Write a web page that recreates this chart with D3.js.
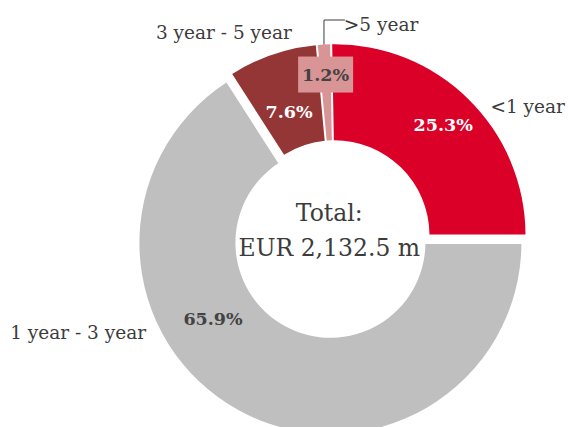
<!DOCTYPE html>
<html>
<head>
<meta charset="utf-8">
<script src="https://cdn.jsdelivr.net/npm/d3@7"></script>
<style>
  body { margin: 0; background: #fff; }
  svg text { font-family: "DejaVu Serif", serif; fill: #3c3c3c; }
</style>
</head>
<body>
<script>
// data
var categories = ["<1 year", "1 year - 3 year", "3 year - 5 year", ">5 year"]
var shares = [25.3, 65.9, 7.6, 1.2]
var shareLabels = ["25.3%", "65.9%", "7.6%", "1.2%"]
var totalLines = ["Total:", "EUR 2,132.5 m"]

// styles
var colors = ["#da0028", "#bfbfbf", "#953636", "#d99595"]
var pctColors = ["#ffffff", "#434343", "#ffffff", "#434343"]

var width = 568, height = 427
var cx = 334.5, cy = 235.3
var outerR = 191, innerR = 95
var deg = Math.PI / 180

// how far each slice is pulled out, and where its labels sit (radius, angle shift from mid)
var explode = [0, 8.5, 0, 0]
var pctPos = [{r: 155, a: 0}, {r: 140, a: 28.3}, {r: 132, a: -1.1}, {r: 161, a: 0}]
var catPos = [
  {r: 264, a: 16.2, anchor: "end"},
  {r: 205, a: 35.4, anchor: "end"},
  {r: 207, a: 7.1, anchor: "end"},
  {r: 211.5, a: 5.7, anchor: "start"}
]

function polar(angle, r) {
  return [r * Math.sin(angle), -r * Math.cos(angle)]
}

var svg = d3.select("body").append("svg")
  .attr("width", width)
  .attr("height", height)

var pie = d3.pie().sort(null)
  .startAngle(-1 * deg)
  .endAngle(359 * deg)

var arc = d3.arc()
  .innerRadius(innerR)
  .outerRadius(outerR)
  .padAngle(0.02)
  .padRadius(100)

var arcs = pie(shares)

var slices = svg.append("g")
  .attr("transform", "translate(" + cx + "," + cy + ")")
  .selectAll("g")
  .data(arcs)
  .enter().append("g")
  .attr("transform", function(d, i) {
    var mid = (d.startAngle + d.endAngle) / 2
    var p = polar(mid, explode[i])
    return "translate(" + p[0] + "," + p[1] + ")"
  })

slices.append("path")
  .attr("d", arc)
  .attr("fill", function(d, i) { return colors[i] })

// leader line for the thin slice
slices.filter(function(d, i) { return i == 3 })
  .each(function(d, i) {
    var g = d3.select(this)
    var mid = (d.startAngle + d.endAngle) / 2
    var start = polar(mid, outerR)
    var lab = polar(mid + catPos[3].a * deg, catPos[3].r)
    g.append("path")
      .attr("d", "M" + start[0] + "," + start[1] + "V" + (lab[1] - 4) + "H" + (lab[0] + 1))
      .attr("fill", "none")
      .attr("stroke", "#3c3c3c")
      .attr("stroke-width", 1)
  })

// box behind the small percentage
slices.filter(function(d, i) { return i == 3 })
  .append("rect")
  .attr("x", function(d) {
    return polar((d.startAngle + d.endAngle) / 2, pctPos[3].r)[0] - 27.5
  })
  .attr("y", function(d) {
    return polar((d.startAngle + d.endAngle) / 2, pctPos[3].r)[1] - 18
  })
  .attr("width", 55)
  .attr("height", 36)
  .attr("fill", colors[3])

slices.append("text")
  .attr("transform", function(d, i) {
    var p = polar((d.startAngle + d.endAngle) / 2 + pctPos[i].a * deg, pctPos[i].r)
    return "translate(" + p[0] + "," + p[1] + ")"
  })
  .attr("text-anchor", "middle")
  .attr("dy", "0.36em")
  .style("font-size", "17.5px")
  .style("font-weight", "bold")
  .style("fill", function(d, i) { return pctColors[i] })
  .text(function(d, i) { return shareLabels[i] })

slices.append("text")
  .attr("transform", function(d, i) {
    var p = polar((d.startAngle + d.endAngle) / 2 + catPos[i].a * deg, catPos[i].r)
    return "translate(" + p[0] + "," + p[1] + ")"
  })
  .attr("text-anchor", function(d, i) { return catPos[i].anchor })
  .attr("dy", "0.36em")
  .style("font-size", "18.5px")
  .text(function(d, i) { return categories[i] })

// total in the hole
svg.append("g")
  .attr("transform", "translate(" + (cx - 5.2) + "," + cy + ")")
  .selectAll("text")
  .data(totalLines)
  .enter().append("text")
  .attr("text-anchor", "middle")
  .attr("y", function(d, i) { return (i - 0.5) * 35 + 3 })
  .style("font-size", "23.5px")
  .text(function(d) { return d })
</script>
</body>
</html>
